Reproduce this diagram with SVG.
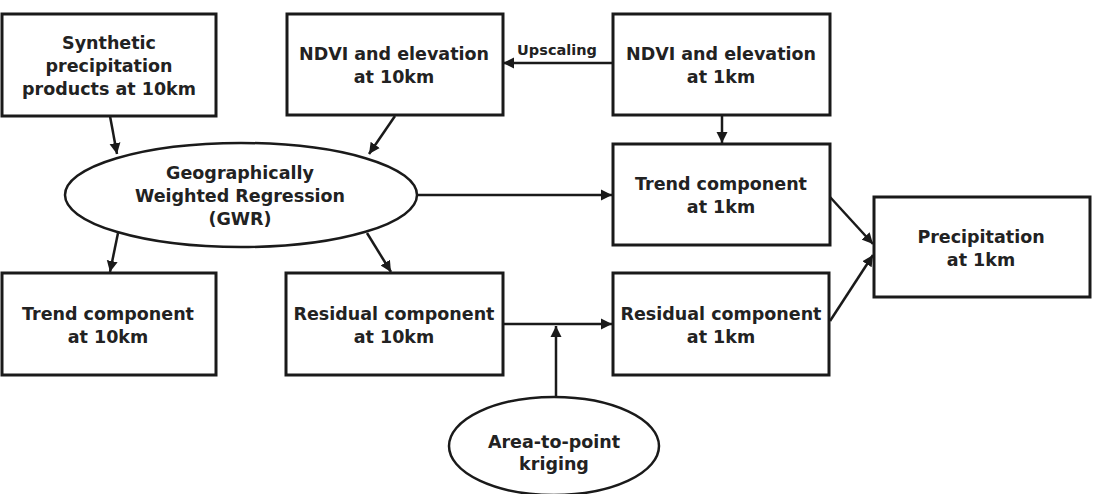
<svg xmlns="http://www.w3.org/2000/svg" width="1097" height="494" viewBox="0 0 1097 494">
<style>
.box{fill:#fff;stroke:#1a1a1a;stroke-width:3}
.ell{fill:#fff;stroke:#1a1a1a;stroke-width:2.5}
.t{font-family:"DejaVu Sans",Verdana,sans-serif;font-weight:bold;font-size:17.5px;fill:#222;text-anchor:middle}
.s{font-size:14.5px}
.c{fill:none;stroke:#1a1a1a;stroke-width:2.5}
</style>
<defs>
<marker id="ah" markerUnits="userSpaceOnUse" markerWidth="12" markerHeight="12" refX="11" refY="6" orient="auto">
<path d="M0,0.5 L11,6 L0,11.5 z" fill="#1a1a1a"/>
</marker>
</defs>
<rect width="1097" height="494" fill="#fff"/>
<g id="connectors">
<line class="c" x1="110" y1="116" x2="117" y2="154" marker-end="url(#ah)"/>
<line class="c" x1="395" y1="116" x2="369" y2="154" marker-end="url(#ah)"/>
<line class="c" x1="613" y1="63" x2="503" y2="63" marker-end="url(#ah)"/>
<line class="c" x1="722" y1="115" x2="722" y2="143" marker-end="url(#ah)"/>
<line class="c" x1="417" y1="195" x2="612" y2="195" marker-end="url(#ah)"/>
<line class="c" x1="118" y1="233" x2="110" y2="272" marker-end="url(#ah)"/>
<line class="c" x1="367" y1="233" x2="391" y2="272" marker-end="url(#ah)"/>
<line class="c" x1="503" y1="324" x2="612" y2="324" marker-end="url(#ah)"/>
<line class="c" x1="556" y1="397" x2="556" y2="326" marker-end="url(#ah)"/>
<line class="c" x1="830" y1="197" x2="873" y2="244" marker-end="url(#ah)"/>
<line class="c" x1="830" y1="321" x2="873" y2="255" marker-end="url(#ah)"/>
</g>
<g id="synthetic">
<rect class="box" x="2" y="14" width="214" height="102"/>
<text class="t" x="109" y="49">Synthetic</text>
<text class="t" x="109" y="72">precipitation</text>
<text class="t" x="109" y="95">products at 10km</text>
</g>
<g id="ndvi10">
<rect class="box" x="287" y="14" width="216" height="101"/>
<text class="t" x="394" y="60">NDVI and elevation</text>
<text class="t" x="394" y="83">at 10km</text>
</g>
<g id="ndvi1">
<rect class="box" x="613" y="14" width="217" height="101"/>
<text class="t" x="721" y="60">NDVI and elevation</text>
<text class="t" x="721" y="83">at 1km</text>
</g>
<g id="upscaling-label">
<text class="t s" x="557" y="55">Upscaling</text>
</g>
<g id="gwr">
<ellipse class="ell" cx="241" cy="195" rx="176" ry="52"/>
<text class="t" x="240" y="179">Geographically</text>
<text class="t" x="240" y="202">Weighted Regression</text>
<text class="t" x="240" y="225">(GWR)</text>
</g>
<g id="trend1">
<rect class="box" x="613" y="144" width="217" height="101"/>
<text class="t" x="721" y="190">Trend component</text>
<text class="t" x="721" y="213">at 1km</text>
</g>
<g id="precip">
<rect class="box" x="874" y="197" width="216" height="100"/>
<text class="t" x="981" y="243">Precipitation</text>
<text class="t" x="981" y="266">at 1km</text>
</g>
<g id="trend10">
<rect class="box" x="2" y="273" width="214" height="102"/>
<text class="t" x="108" y="320">Trend component</text>
<text class="t" x="108" y="343">at 10km</text>
</g>
<g id="resid10">
<rect class="box" x="286" y="273" width="217" height="102"/>
<text class="t" x="394" y="320">Residual component</text>
<text class="t" x="394" y="343">at 10km</text>
</g>
<g id="resid1">
<rect class="box" x="613" y="273" width="216" height="102"/>
<text class="t" x="721" y="320">Residual component</text>
<text class="t" x="721" y="343">at 1km</text>
</g>
<g id="kriging">
<ellipse class="ell" cx="554" cy="446" rx="105" ry="49"/>
<text class="t" x="554" y="448">Area-to-point</text>
<text class="t" x="554" y="470">kriging</text>
</g>
</svg>
